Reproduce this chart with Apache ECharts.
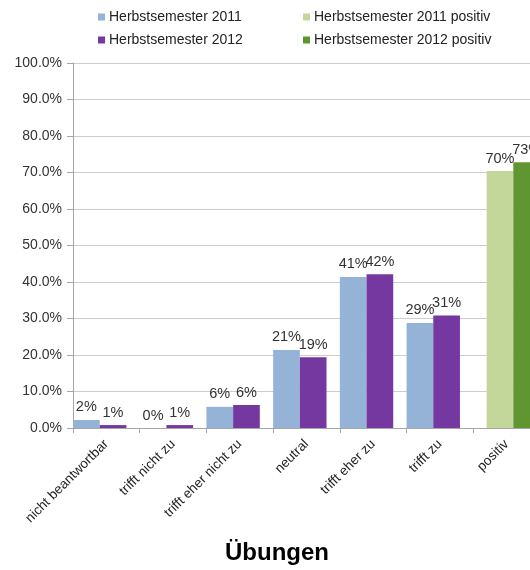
<!DOCTYPE html>
<html>
<head>
<meta charset="utf-8">
<script src="https://cdn.jsdelivr.net/npm/echarts@6/dist/echarts.min.js"></script>
<style>
  html, body { margin: 0; padding: 0; background: #fff; }
  #chart { width: 530px; height: 570px; }
</style>
</head>
<body>
<div id="chart"></div>
<script>
// Answer categories of the survey item
const categories = ['nicht beantwortbar', 'trifft nicht zu', 'trifft eher nicht zu', 'neutral', 'trifft eher zu', 'trifft zu', 'positiv'];
// Shares in percent per semester (last category is the combined "positiv" share)
const hs2011 = [2.2, 0, 5.8, 21.4, 41.4, 28.8, null];
const hs2012 = [0.8, 0.8, 6.3, 19.4, 42.1, 30.8, null];
const hs2011Pos = [null, null, null, null, null, null, 70.4];
const hs2012Pos = [null, null, null, null, null, null, 72.8];
const yTicks = { min: 0, max: 100, interval: 10 };

const FONT = 'Liberation Sans, Arial, sans-serif';
const labelCfg = {
  show: true,
  position: 'top',
  distance: 5,
  color: '#333',
  fontFamily: FONT,
  fontSize: 14.5,
  formatter: p => Math.round(p.value) + '%'
};
const legendText = { fontFamily: FONT, fontSize: 14, color: '#222', padding: [0, 0, 0, -1] };

const chart = echarts.init(document.getElementById('chart'), null, { renderer: 'canvas' });
chart.setOption({
  animation: false,
  textStyle: { fontFamily: FONT },
  title: {
    text: 'Übungen',
    left: 220,
    top: 536,
    textStyle: { fontFamily: FONT, fontSize: 24, fontWeight: 'bold', color: '#000' }
  },
  legend: [
    {
      data: ['Herbstsemester 2011', 'Herbstsemester 2012'],
      orient: 'vertical',
      left: 93, top: 5,
      itemWidth: 7, itemHeight: 7, itemGap: 9,
      icon: 'rect',
      textStyle: legendText
    },
    {
      data: ['Herbstsemester 2011 positiv', 'Herbstsemester 2012 positiv'],
      orient: 'vertical',
      left: 298, top: 5,
      itemWidth: 7, itemHeight: 7, itemGap: 9,
      icon: 'rect',
      textStyle: legendText
    }
  ],
  // the plot runs past the right edge of the canvas
  grid: { left: 73, width: 467, top: 63, bottom: 142, containLabel: false, outerBoundsMode: 'none' },
  xAxis: [
    {
      type: 'category',
      data: categories,
      axisLine: { lineStyle: { color: '#a6a6a6' } },
      axisTick: { show: true, length: 5, lineStyle: { color: '#a6a6a6' } },
      axisLabel: { rotate: 45, interval: 0, color: '#222', fontSize: 13.5, fontFamily: FONT, margin: 14 }
    },
    {
      type: 'category',
      data: categories,
      show: false
    }
  ],
  yAxis: {
    type: 'value',
    min: yTicks.min, max: yTicks.max, interval: yTicks.interval,
    axisLine: { show: true, lineStyle: { color: '#a6a6a6' } },
    axisTick: { show: true, length: 6, lineStyle: { color: '#a6a6a6' } },
    splitLine: { lineStyle: { color: '#cccccc' } },
    axisLabel: {
      color: '#333', fontSize: 14, fontFamily: FONT, margin: 11,
      formatter: v => v.toFixed(1) + '%'
    }
  },
  series: [
    { name: 'Herbstsemester 2011', type: 'bar', xAxisIndex: 0, data: hs2011, barWidth: '40%', barGap: '0%', barCategoryGap: '0%', itemStyle: { color: '#95B3D7' }, label: labelCfg },
    { name: 'Herbstsemester 2012', type: 'bar', xAxisIndex: 0, data: hs2012, barWidth: '40%', barGap: '0%', itemStyle: { color: '#7438A0' }, label: labelCfg },
    // empty slot that keeps the pair at the left of each category
    { name: 'slotA', type: 'bar', xAxisIndex: 0, data: [], barWidth: '20%', barGap: '0%', silent: true },
    // empty slot before the combined bars
    { name: 'slotB', type: 'bar', xAxisIndex: 1, data: [], barWidth: '20%', barGap: '0%', barCategoryGap: '0%', silent: true },
    { name: 'Herbstsemester 2011 positiv', type: 'bar', xAxisIndex: 1, data: hs2011Pos, barWidth: '40%', barGap: '0%', itemStyle: { color: '#C4D79B' }, label: labelCfg },
    { name: 'Herbstsemester 2012 positiv', type: 'bar', xAxisIndex: 1, data: hs2012Pos, barWidth: '40%', barGap: '0%', itemStyle: { color: '#5F9632' }, label: labelCfg }
  ]
});
</script>
</body>
</html>
